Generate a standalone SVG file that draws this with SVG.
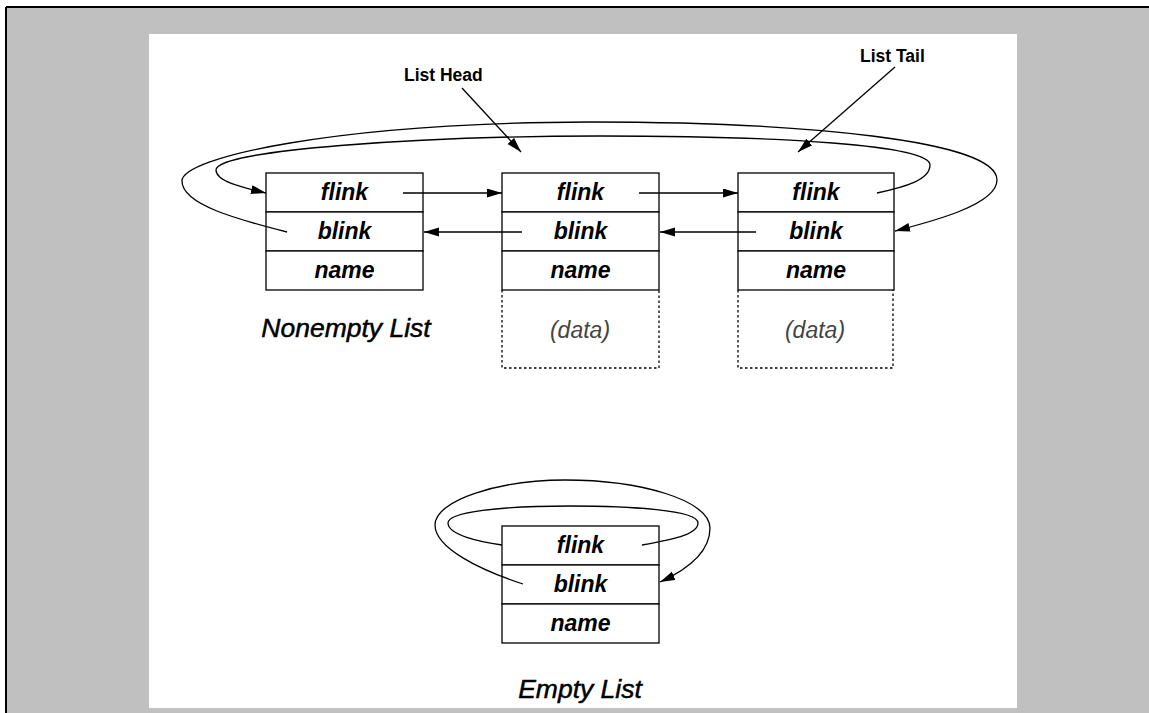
<svg xmlns="http://www.w3.org/2000/svg" width="1149" height="713" viewBox="0 0 1149 713">
<defs>
<style>
.cell{fill:#fff;stroke:#000;stroke-width:1.3}
.dash{fill:none;stroke:#000;stroke-width:1.3;stroke-dasharray:2.5 2.5}
.f{font-family:"Liberation Sans",Arial,sans-serif;font-style:italic;font-weight:bold;font-size:23px;text-anchor:middle;fill:#000}
.data{font-family:"Liberation Sans",Arial,sans-serif;font-style:italic;font-size:23px;text-anchor:middle;fill:#444}
.cap{font-family:"Liberation Sans",Arial,sans-serif;font-style:italic;font-size:26.5px;text-anchor:middle;fill:#000;stroke:#000;stroke-width:0.5}
.lbl{font-family:"Liberation Sans",Arial,sans-serif;font-weight:bold;font-size:17.5px;fill:#000}
.c{fill:none;stroke:#000;stroke-width:1.3}
.a{marker-end:url(#ah)}
</style>
<marker id="ah" markerUnits="userSpaceOnUse" markerWidth="16" markerHeight="10" refX="15" refY="4.5" orient="auto">
<path d="M0,0 L15,4.5 L0,9 z" fill="#000"/>
</marker>
</defs>
<rect x="6" y="7" width="1143" height="706" fill="#c0c0c0"/>
<line x1="6" y1="7" x2="6" y2="713" stroke="#000" stroke-width="2"/>
<line x1="6" y1="7" x2="1149" y2="7" stroke="#000" stroke-width="2"/>
<rect x="149" y="34" width="868" height="674" fill="#fff"/>

<g id="node1">
<rect class="cell" x="266" y="173" width="157" height="39"/>
<rect class="cell" x="266" y="212" width="157" height="39"/>
<rect class="cell" x="266" y="251" width="157" height="39"/>
<text class="f" x="344.5" y="200">flink</text>
<text class="f" x="344.5" y="239">blink</text>
<text class="f" x="344.5" y="278">name</text>
</g>
<g id="node2">
<rect class="cell" x="502" y="173" width="157" height="39"/>
<rect class="cell" x="502" y="212" width="157" height="39"/>
<rect class="cell" x="502" y="251" width="157" height="39"/>
<path class="dash" d="M502,290 V368 H659 V290"/>
<text class="f" x="580.5" y="200">flink</text>
<text class="f" x="580.5" y="239">blink</text>
<text class="f" x="580.5" y="278">name</text>
<text class="data" x="580" y="338">(data)</text>
</g>
<g id="node3">
<rect class="cell" x="738" y="173" width="156" height="39"/>
<rect class="cell" x="738" y="212" width="156" height="39"/>
<rect class="cell" x="738" y="251" width="156" height="39"/>
<path class="dash" d="M738,290 V368 H893 V290"/>
<text class="f" x="816" y="200">flink</text>
<text class="f" x="816" y="239">blink</text>
<text class="f" x="816" y="278">name</text>
<text class="data" x="815" y="338">(data)</text>
</g>
<g id="node4">
<rect class="cell" x="502" y="526" width="157" height="39"/>
<rect class="cell" x="502" y="565" width="157" height="39"/>
<rect class="cell" x="502" y="604" width="157" height="39"/>
<text class="f" x="580.5" y="553">flink</text>
<text class="f" x="580.5" y="592">blink</text>
<text class="f" x="580.5" y="631">name</text>
</g>
<g id="labels">
<text class="cap" x="346" y="337">Nonempty List</text>
<text class="cap" x="580" y="698">Empty List</text>
<text class="lbl" x="404" y="81">List Head</text>
<text class="lbl" x="860" y="62">List Tail</text>
</g>

<g id="connectors">
<line class="c a" x1="403" y1="193" x2="502" y2="193"/>
<line class="c a" x1="639" y1="193" x2="738" y2="193"/>
<line class="c a" x1="522" y1="232" x2="424" y2="232"/>
<line class="c a" x1="756" y1="232" x2="660" y2="232"/>
<path class="c a" d="M287,232 C240,220 182,205 182,181 C182,158 330,123 590,122 C800,122 997,140 997,180 C997,205 930,222 895,231"/>
<path class="c a" d="M877,193 C905,187 930,180 930,165 C930,145 780,136 600,136 C420,136 216,150 216,170 C216,182 245,188 266,193"/>
<line class="c a" x1="462" y1="88" x2="521" y2="152"/>
<line class="c a" x1="895" y1="67" x2="798" y2="152"/>
<path class="c a" d="M523,584 C480,570 435,548 435,525 C435,500 500,480 565,480 C640,480 710,500 710,528 C710,555 682,572 660,582"/>
<path class="c" d="M642,545 C670,540 698,535 698,523 C698,510 630,506 570,506 C500,506 448,512 448,523 C448,535 480,542 502,545"/>
</g>
</svg>
